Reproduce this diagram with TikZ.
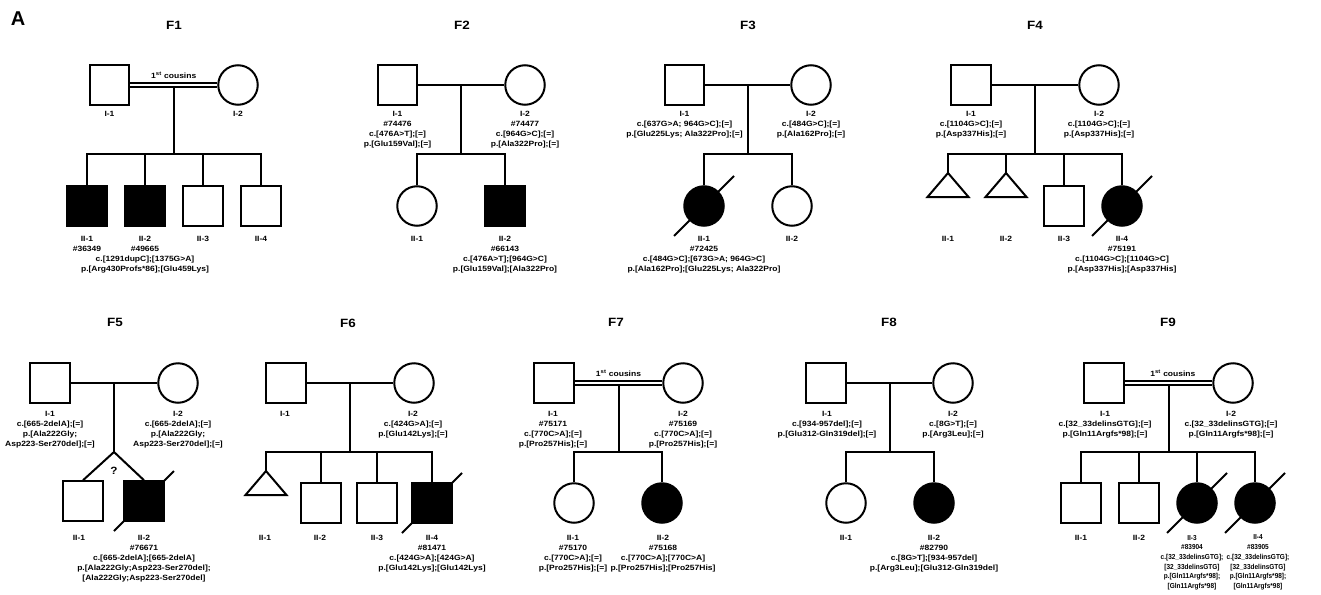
\documentclass[tikz,border=0pt]{standalone}
\usepackage{fontspec}
\setmainfont{Liberation Sans}
\newfontfamily\labfont[FakeStretch=1.12]{Liberation Sans}
\newfontfamily\narrowfont[FakeStretch=0.9]{Liberation Sans}
\usepackage{tikz}

\begin{document}
\begin{tikzpicture}[x=1pt, y=-1pt, line width=2pt,
    male/.style={draw, rectangle, minimum size=39.5pt, inner sep=0pt},
    female/.style={draw, circle, minimum size=39.5pt, inner sep=0pt},
    aff/.style={fill=black},
    lab/.style={font=\labfont\fontsize{7.6}{10}\selectfont\bfseries, align=center, anchor=north, inner sep=0pt},
    nlab/.style={lab, font=\narrowfont\fontsize{7.2}{9.7}\selectfont\bfseries},
    fam/.style={font=\labfont\fontsize{12}{14}\selectfont\bfseries},
    cous/.style={above, inner sep=3pt, font=\labfont\fontsize{7.6}{9}\selectfont\bfseries}]

    \useasboundingbox (0,0) rectangle (1321,594);

    \node[font=\fontsize{20}{20}\selectfont\bfseries] (A) at (18,19) {A};

    \node[fam] (t) at (174,25) {F1};
    \node[male] (a) at (109.5,85) {};
    \node[female] (b) at (238,85) {};
    \node[male, aff] (c) at (87,206) {};
    \node[male, aff] (d) at (145,206) {};
    \node[male] (e) at (203,206) {};
    \node[male] (f) at (261,206) {};
    \coordinate (s) at (0,154);
    \node[lab] (la) at (109.5,110) {I-1};
    \node[lab] (lb) at (238,110) {I-2};
    \node[lab] (lc) at (87,235) {II-1\\\#36349};
    \node[lab] (ld) at (145,235) {II-2\\\#49665\\c.[1291dupC];[1375G>A]\\p.[Arg430Profs*86];[Glu459Lys]};
    \node[lab] (le) at (203,235) {II-3};
    \node[lab] (lf) at (261,235) {II-4};

    \draw ([yshift=2.3pt]a.east) -- node[cous] {1\textsuperscript{st} cousins} ([yshift=2.3pt]b.west);
    \draw ([yshift=-2.3pt]a.east) -- coordinate[midway] (m) ([yshift=-2.3pt]b.west);
    \draw (m) -- (m |- s);
    \draw (c.north) -- (c.north |- s) -- (f.north |- s) -- (f.north);
    \draw (d.north) -- (d.north |- s);
    \draw (e.north) -- (e.north |- s);

    \node[fam] (t) at (462,25) {F2};
    \node[male] (a) at (397.5,85) {};
    \node[female] (b) at (525,85) {};
    \node[female] (c) at (417,206) {};
    \node[male, aff] (d) at (505,206) {};
    \coordinate (s) at (0,154);
    \node[lab] (la) at (397.5,110) {I-1\\\#74476\\c.[476A>T];[=]\\p.[Glu159Val];[=]};
    \node[lab] (lb) at (525,110) {I-2\\\#74477\\c.[964G>C];[=]\\p.[Ala322Pro];[=]};
    \node[lab] (lc) at (417,235) {II-1};
    \node[lab] (ld) at (505,235) {II-2\\\#66143\\c.[476A>T];[964G>C]\\p.[Glu159Val];[Ala322Pro]};

    \draw (a) -- coordinate[midway] (m) (b);
    \draw (m) -- (m |- s);
    \draw (c.north) -- (c.north |- s) -- (d.north |- s) -- (d.north);

    \node[fam] (t) at (748,25) {F3};
    \node[male] (a) at (684.5,85) {};
    \node[female] (b) at (811,85) {};
    \node[female, aff] (c) at (704,206) {};
    \node[female] (d) at (792,206) {};
    \coordinate (s) at (0,154);
    \node[lab] (la) at (684.5,110) {I-1\\c.[637G>A; 964G>C];[=]\\p.[Glu225Lys; Ala322Pro];[=]};
    \node[lab] (lb) at (811,110) {I-2\\c.[484G>C];[=]\\p.[Ala162Pro];[=]};
    \node[lab] (lc) at (704,235) {II-1\\\#72425\\c.[484G>C];[673G>A; 964G>C]\\p.[Ala162Pro];[Glu225Lys; Ala322Pro]};
    \node[lab] (ld) at (792,235) {II-2};

    \draw (a) -- coordinate[midway] (m) (b);
    \draw (m) -- (m |- s);
    \draw (c.north) -- (c.north |- s) -- (d.north |- s) -- (d.north);
    \draw ([shift={(-30,30)}]c.center) -- ([shift={(30,-30)}]c.center);

    \node[fam] (t) at (1035,25) {F4};
    \node[male] (a) at (971,85) {};
    \node[female] (b) at (1099,85) {};
    \coordinate (c) at (948,173);
    \coordinate (d) at (1006,173);
    \node[male] (e) at (1064,206) {};
    \node[female, aff] (f) at (1122,206) {};
    \coordinate (s) at (0,154);
    \node[lab] (la) at (971,110) {I-1\\c.[1104G>C];[=]\\p.[Asp337His];[=]};
    \node[lab] (lb) at (1099,110) {I-2\\c.[1104G>C];[=]\\p.[Asp337His];[=]};
    \node[lab] (lc) at (948,235) {II-1};
    \node[lab] (ld) at (1006,235) {II-2};
    \node[lab] (le) at (1064,235) {II-3};
    \node[lab] (lf) at (1122,235) {II-4\\\#75191\\c.[1104G>C];[1104G>C]\\p.[Asp337His];[Asp337His]};

    \draw (a) -- coordinate[midway] (m) (b);
    \draw (m) -- (m |- s);
    \draw (c) -- (c |- s) -- (f.north |- s) -- (f.north);
    \draw (d) -- (d |- s);
    \draw (e.north) -- (e.north |- s);
    \draw (c) -- ++(-20.5,24) -- ++(41,0) -- cycle;
    \draw (d) -- ++(-20.5,24) -- ++(41,0) -- cycle;
    \draw ([shift={(-30,30)}]f.center) -- ([shift={(30,-30)}]f.center);

    \node[fam] (t) at (115,322) {F5};
    \node[male] (a) at (50,383) {};
    \node[female] (b) at (178,383) {};
    \node[male] (c) at (83,501) {};
    \node[male, aff] (d) at (144,501) {};
    \coordinate (s) at (114,452);
    \node[font=\labfont\fontsize{10.5}{12}\selectfont\bfseries] (q) at (114,471) {?};
    \node[lab] (la) at (50,410) {I-1\\c.[665-2delA];[=]\\p.[Ala222Gly;\\Asp223-Ser270del];[=]};
    \node[lab] (lb) at (178,410) {I-2\\c.[665-2delA];[=]\\p.[Ala222Gly;\\Asp223-Ser270del];[=]};
    \node[lab] (lc) at (79,534) {II-1};
    \node[lab] (ld) at (144,534) {II-2\\\#76671\\c.[665-2delA];[665-2delA]\\p.[Ala222Gly;Asp223-Ser270del];\\{[Ala222Gly;Asp223-Ser270del]}};

    \draw (a) -- coordinate[midway] (m) (b);
    \draw (m) -- (s);
    \draw (c.north) -- (s) -- (d.north);
    \draw ([shift={(-30,30)}]d.center) -- ([shift={(30,-30)}]d.center);

    \node[fam] (t) at (348,323) {F6};
    \node[male] (a) at (286,383) {};
    \node[female] (b) at (414,383) {};
    \coordinate (c) at (266,471);
    \node[male] (d) at (321,503) {};
    \node[male] (e) at (377,503) {};
    \node[male, aff] (f) at (432,503) {};
    \coordinate (s) at (0,452);
    \node[lab] (la) at (285,410) {I-1};
    \node[lab] (lb) at (413,410) {I-2\\c.[424G>A];[=]\\p.[Glu142Lys];[=]};
    \node[lab] (lc) at (265,534) {II-1};
    \node[lab] (ld) at (320,534) {II-2};
    \node[lab] (le) at (377,534) {II-3};
    \node[lab] (lf) at (432,534) {II-4\\\#81471\\c.[424G>A];[424G>A]\\p.[Glu142Lys];[Glu142Lys]};

    \draw (a) -- coordinate[midway] (m) (b);
    \draw (m) -- (m |- s);
    \draw (c) -- (c |- s) -- (f.north |- s) -- (f.north);
    \draw (d.north) -- (d.north |- s);
    \draw (e.north) -- (e.north |- s);
    \draw (c) -- ++(-20.5,24) -- ++(41,0) -- cycle;
    \draw ([shift={(-30,30)}]f.center) -- ([shift={(30,-30)}]f.center);

    \node[fam] (t) at (616,322) {F7};
    \node[male] (a) at (554,383) {};
    \node[female] (b) at (683,383) {};
    \node[female] (c) at (574,503) {};
    \node[female, aff] (d) at (662,503) {};
    \coordinate (s) at (0,452);
    \node[lab] (la) at (553,410) {I-1\\\#75171\\c.[770C>A];[=]\\p.[Pro257His];[=]};
    \node[lab] (lb) at (683,410) {I-2\\\#75169\\c.[770C>A];[=]\\p.[Pro257His];[=]};
    \node[lab] (lc) at (573,534) {II-1\\\#75170\\c.[770C>A];[=]\\p.[Pro257His];[=]};
    \node[lab] (ld) at (663,534) {II-2\\\#75168\\c.[770C>A];[770C>A]\\p.[Pro257His];[Pro257His]};

    \draw ([yshift=2.3pt]a.east) -- node[cous] {1\textsuperscript{st} cousins} ([yshift=2.3pt]b.west);
    \draw ([yshift=-2.3pt]a.east) -- coordinate[midway] (m) ([yshift=-2.3pt]b.west);
    \draw (m) -- (m |- s);
    \draw (c.north) -- (c.north |- s) -- (d.north |- s) -- (d.north);

    \node[fam] (t) at (889,322) {F8};
    \node[male] (a) at (826,383) {};
    \node[female] (b) at (953,383) {};
    \node[female] (c) at (846,503) {};
    \node[female, aff] (d) at (934,503) {};
    \coordinate (s) at (0,452);
    \node[lab] (la) at (827,410) {I-1\\c.[934-957del];[=]\\p.[Glu312-Gln319del];[=]};
    \node[lab] (lb) at (953,410) {I-2\\c.[8G>T];[=]\\p.[Arg3Leu];[=]};
    \node[lab] (lc) at (846,534) {II-1};
    \node[lab] (ld) at (934,534) {II-2\\\#82790\\c.[8G>T];[934-957del]\\p.[Arg3Leu];[Glu312-Gln319del]};

    \draw (a) -- coordinate[midway] (m) (b);
    \draw (m) -- (m |- s);
    \draw (c.north) -- (c.north |- s) -- (d.north |- s) -- (d.north);

    \node[fam] (t) at (1168,322) {F9};
    \node[male] (a) at (1104,383) {};
    \node[female] (b) at (1233,383) {};
    \node[male] (c) at (1081,503) {};
    \node[male] (d) at (1139,503) {};
    \node[female, aff] (e) at (1197,503) {};
    \node[female, aff] (f) at (1255,503) {};
    \coordinate (s) at (0,452);
    \node[lab] (la) at (1105,410) {I-1\\c.[32\_33delinsGTG];[=]\\p.[Gln11Argfs*98];[=]};
    \node[lab] (lb) at (1231,410) {I-2\\c.[32\_33delinsGTG];[=]\\p.[Gln11Argfs*98];[=]};
    \node[lab] (lc) at (1081,534) {II-1};
    \node[lab] (ld) at (1139,534) {II-2};
    \node[nlab] (le) at (1192,534) {II-3\\\#83904\\c.[32\_33delinsGTG];\\{[32\_33delinsGTG]}\\p.[Gln11Argfs*98];\\{[Gln11Argfs*98]}};
    \node[nlab] (lf) at (1258,534) {II-4\\\#83905\\c.[32\_33delinsGTG];\\{[32\_33delinsGTG]}\\p.[Gln11Argfs*98];\\{[Gln11Argfs*98]}};

    \draw ([yshift=2.3pt]a.east) -- node[cous, pos=0.55] {1\textsuperscript{st} cousins} ([yshift=2.3pt]b.west);
    \draw ([yshift=-2.3pt]a.east) -- coordinate[midway] (m) ([yshift=-2.3pt]b.west);
    \draw (m) -- (m |- s);
    \draw (c.north) -- (c.north |- s) -- (f.north |- s) -- (f.north);
    \draw (d.north) -- (d.north |- s);
    \draw (e.north) -- (e.north |- s);
    \draw ([shift={(-30,30)}]e.center) -- ([shift={(30,-30)}]e.center);
    \draw ([shift={(-30,30)}]f.center) -- ([shift={(30,-30)}]f.center);

\end{tikzpicture}
\end{document}
